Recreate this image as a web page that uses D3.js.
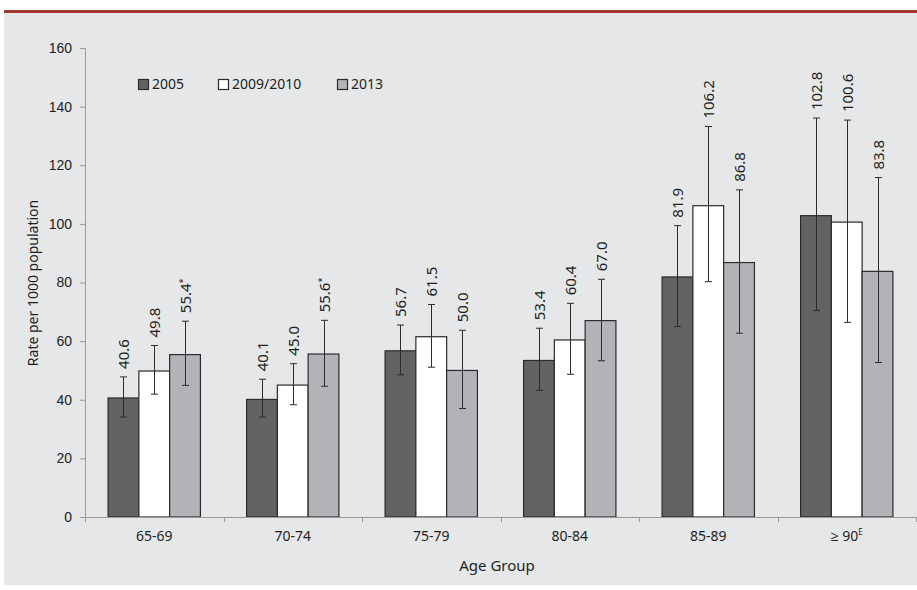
<!DOCTYPE html>
<html><head><meta charset="utf-8">
<script src="https://cdn.jsdelivr.net/npm/d3@7"></script>
<style>
html,body{margin:0;padding:0;background:#fff;}
svg{display:block;font-family:"Noto Sans","Open Sans",sans-serif;}
</style></head>
<body>
<svg id="chart" width="917" height="590"></svg>
<script>
const categories = ["65-69","70-74","75-79","80-84","85-89","\u2265 90"];
const categoryMarks = ["","","","","","E"];
const seriesNames = ["2005","2009/2010","2013"];
const values2005 = [40.6, 40.1, 56.7, 53.4, 81.9, 102.8];
const values2009 = [49.8, 45.0, 61.5, 60.4, 106.2, 100.6];
const values2013 = [55.4, 55.6, 50.0, 67.0, 86.8, 83.8];
const lower2005 = [34.1, 34.1, 48.5, 43.2, 65.0, 70.4];
const upper2005 = [47.8, 47.0, 65.5, 64.4, 99.4, 136.1];
const lower2009 = [41.9, 38.3, 51.1, 48.7, 80.3, 66.4];
const upper2009 = [58.5, 52.3, 72.5, 72.9, 133.2, 135.4];
const lower2013 = [44.9, 44.6, 37.0, 53.3, 62.7, 52.7];
const upper2013 = [66.8, 67.1, 63.7, 81.1, 111.6, 115.8];
const marks2013 = ["*","*","","","",""];
const yTicks = [0,20,40,60,80,100,120,140,160];

const colors = ["#636365","#ffffff","#b3b4b7"];

const svg = d3.select("#chart");
// panel
svg.append("rect").attr("x",4).attr("y",13).attr("width",913).attr("height",572).attr("fill","#e6e7e9");
svg.append("rect").attr("x",4).attr("y",10).attr("width",913).attr("height",3).attr("fill","#a23a34");

const pLeft = 85, pRight = 916, pTop = 48, pBottom = 517;
const y = d3.scaleLinear().domain([0,160]).range([pBottom, pTop]);
const x0 = d3.scaleBand().domain(categories).range([pLeft, pRight]).paddingInner(1/3).paddingOuter(1/6);
const x1 = d3.scaleBand().domain(seriesNames).range([0, x0.bandwidth()]);

const series = [
  {name: seriesNames[0], vals: values2005, lo: lower2005, hi: upper2005, marks: ["","","","","",""]},
  {name: seriesNames[1], vals: values2009, lo: lower2009, hi: upper2009, marks: ["","","","","",""]},
  {name: seriesNames[2], vals: values2013, lo: lower2013, hi: upper2013, marks: marks2013}
];

// y axis
const yAxis = d3.axisLeft(y).tickValues(yTicks).tickSize(5).tickPadding(8);
const gy = svg.append("g").attr("transform",`translate(${pLeft},0)`).call(yAxis);
gy.select(".domain").attr("stroke","#9a9a9a").attr("d",`M-5,${pTop+0.5}H0.5V${pBottom}`);
gy.selectAll(".tick line").attr("stroke","#9a9a9a");
gy.selectAll(".tick text").attr("fill","#231f20").style("font-size","14px");

// bars
series.forEach((s, si) => {
  const g = svg.append("g");
  categories.forEach((c, i) => {
    const bx = x0(c) + x1(s.name);
    const bw = x1.bandwidth();
    g.append("rect").attr("x",bx).attr("y",y(s.vals[i])).attr("width",bw).attr("height",y(0)-y(s.vals[i]))
      .attr("fill",colors[si]).attr("stroke","#2b2b2b").attr("stroke-width",1.2);
  });
});

// x axis
const step = x0.step();
const gx = svg.append("g");
gx.append("line").attr("x1",pLeft).attr("x2",pRight).attr("y1",pBottom+0.5).attr("y2",pBottom+0.5).attr("stroke","#9a9a9a").attr("stroke-width",1.2);
d3.range(categories.length+1).forEach(i => {
  const tx = Math.round(x0.range()[0] + i*step) + 0.5;
  gx.append("line").attr("x1",tx).attr("x2",tx).attr("y1",pBottom).attr("y2",pBottom+5).attr("stroke","#9a9a9a");
});
categories.forEach((c,i) => {
  const t = gx.append("text").attr("x", x0(c)+x0.bandwidth()/2).attr("y", 541)
    .attr("text-anchor","middle").attr("fill","#231f20").style("font-size","14px").text(c);
  if (categoryMarks[i]) t.append("tspan").attr("dy",-6).style("font-size","8px").text(categoryMarks[i]);
});

// error bars and labels
series.forEach((s, si) => {
  categories.forEach((c, i) => {
    const cx = Math.round(x0(c) + x1(s.name) + x1.bandwidth()/2) + 0.5;
    const g = svg.append("g").attr("stroke","#2b2b2b").attr("stroke-width",1);
    g.append("line").attr("x1",cx).attr("x2",cx).attr("y1",y(s.hi[i])).attr("y2",y(s.lo[i]));
    g.append("line").attr("x1",cx-3.5).attr("x2",cx+3.5).attr("y1",y(s.hi[i])).attr("y2",y(s.hi[i]));
    g.append("line").attr("x1",cx-3.5).attr("x2",cx+3.5).attr("y1",y(s.lo[i])).attr("y2",y(s.lo[i]));
    const ly = y(s.hi[i]) - 8;
    const t = svg.append("text").attr("transform",`translate(${cx},${ly}) rotate(-90)`)
      .attr("dy","0.36em").attr("text-anchor","start").attr("fill","#231f20").style("font-size","15px")
      .text(s.vals[i].toFixed(1));
    if (s.marks[i]) t.append("tspan").attr("dy",-5).style("font-size","9px").text(s.marks[i]);
  });
});

// legend
const legendX = [138, 218, 337];
seriesNames.forEach((n, i) => {
  svg.append("rect").attr("x",legendX[i]+0.5).attr("y",79.5).attr("width",10).attr("height",10)
    .attr("fill",colors[i]).attr("stroke","#2b2b2b").attr("stroke-width",1.2);
  svg.append("text").attr("x",legendX[i]+14).attr("y",89).attr("fill","#231f20").style("font-size","14px").text(n);
});

// axis titles
svg.append("text").attr("transform","translate(38,283) rotate(-90)").attr("text-anchor","middle")
  .attr("fill","#231f20").style("font-size","14px").text("Rate per 1000 population");
svg.append("text").attr("x",497).attr("y",571).attr("text-anchor","middle")
  .attr("fill","#231f20").style("font-size","15px").text("Age Group");
</script>
</body></html>
